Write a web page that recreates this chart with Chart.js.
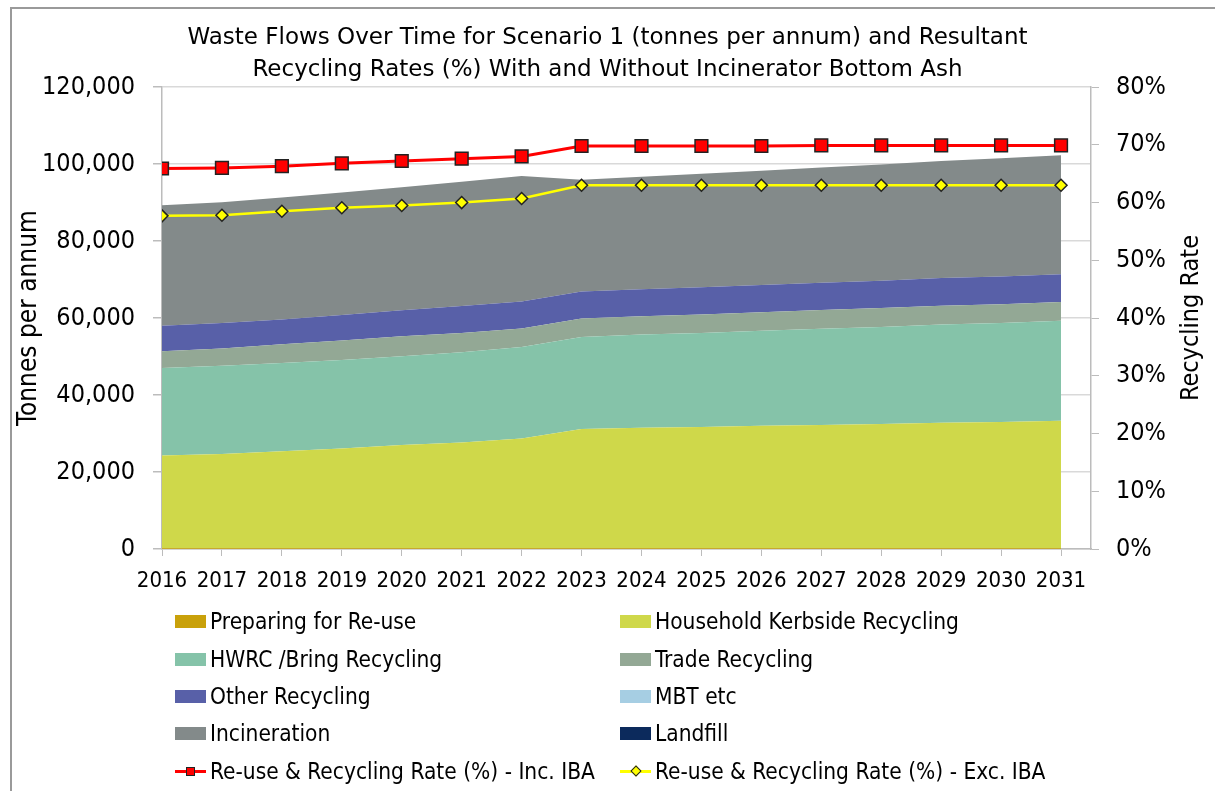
<!DOCTYPE html>
<html>
<head>
<meta charset="utf-8">
<script src="https://cdn.jsdelivr.net/npm/chart.js@4.4.0/dist/chart.umd.min.js"></script>
<style>
html, body { margin: 0; padding: 0; background: #fff; }
body { width: 1215px; height: 791px; position: relative; overflow: hidden;
       font-family: "DejaVu Sans Condensed", "DejaVu Sans", sans-serif; }
#frame { position: absolute; left: 10px; top: 7px; width: 1220px; height: 800px;
         border-left: 2px solid #9a9a9a; border-top: 2px solid #9a9a9a; }
#wrap { position: absolute; left: 0; top: 0; width: 1215px; height: 791px; }
#legend { position: absolute; left: 0; top: 0; width: 1215px; height: 791px; pointer-events: none; }
.item { position: absolute; display: flex; align-items: center; font-size: 22.5px; color: #000; white-space: nowrap; height: 26px; }
.sw { width: 31px; height: 13px; margin-right: 4px; }
.ln { width: 31px; height: 13px; margin-right: 4px; position: relative; }
.ln .bar { position: absolute; left: 0; right: 0; top: 5px; height: 3px; }
.ln .mk { position: absolute; left: 11px; top: 2px; width: 9px; height: 9px; border: 1px solid #222; box-sizing: border-box; }
.ln .mk.dia { width: 8px; height: 8px; left: 11.5px; top: 2.5px; transform: rotate(45deg); }
</style>
</head>
<body>
<div id="frame"></div>
<div id="wrap"><canvas id="chart" width="1215" height="791"></canvas></div>
<div id="legend"></div>
<script>
// Years on the x axis
const years = [2016, 2017, 2018, 2019, 2020, 2021, 2022, 2023, 2024, 2025, 2026, 2027, 2028, 2029, 2030, 2031];

// Waste flows (tonnes per annum)
const prepReuse   = [200, 200, 200, 200, 200, 200, 200, 200, 200, 200, 200, 200, 200, 200, 200, 200];
const kerbside    = [24100, 24500, 25200, 25900, 26800, 27500, 28500, 31000, 31300, 31500, 31800, 32000, 32300, 32600, 32800, 33100];
const hwrc        = [22700, 22900, 22900, 23000, 23100, 23400, 23800, 23900, 24200, 24400, 24700, 25000, 25200, 25500, 25700, 26000];
const trade       = [4400, 4500, 4900, 5100, 5200, 5000, 4800, 4800, 4800, 4800, 4800, 4900, 4900, 4900, 4900, 4900];
const otherRecyc  = [6600, 6600, 6400, 6600, 6700, 7000, 7000, 7000, 7000, 7100, 7100, 7100, 7100, 7200, 7200, 7200];
const mbt         = [0, 0, 0, 0, 0, 0, 0, 0, 0, 0, 0, 0, 0, 0, 0, 0];
const incineration = [31300, 31400, 31700, 31800, 32000, 32300, 32600, 29000, 29200, 29500, 29700, 29900, 30200, 30400, 30700, 30900];
const landfill    = [0, 0, 0, 0, 0, 0, 0, 0, 0, 0, 0, 0, 0, 0, 0, 0];

// Recycling rates (%)
const rateIncIBA = [65.9, 66.0, 66.3, 66.8, 67.2, 67.6, 68.0, 69.8, 69.8, 69.8, 69.8, 69.9, 69.9, 69.9, 69.9, 69.9];
const rateExcIBA = [57.7, 57.8, 58.5, 59.1, 59.5, 60.0, 60.7, 63.0, 63.0, 63.0, 63.0, 63.0, 63.0, 63.0, 63.0, 63.0];

const FONT = '"DejaVu Sans Condensed", "DejaVu Sans", sans-serif';
const TITLE_FONT = '"DejaVu Sans", sans-serif';
Chart.defaults.font.family = FONT;
Chart.defaults.color = '#000';

function pts(arr) {
    return years.map((y, i) => ({ x: y, y: arr[i] }));
}

// Stacked areas (bottom to top)
const areas = [
    { label: 'Preparing for Re-use', data: prepReuse, color: '#c9a10a' },
    { label: 'Household Kerbside Recycling', data: kerbside, color: '#cfd84a' },
    { label: 'HWRC /Bring Recycling', data: hwrc, color: '#85c3a9' },
    { label: 'Trade Recycling', data: trade, color: '#93a895' },
    { label: 'Other Recycling', data: otherRecyc, color: '#5860a8' },
    { label: 'MBT etc', data: mbt, color: '#a6cee3' },
    { label: 'Incineration', data: incineration, color: '#838a8a' },
    { label: 'Landfill', data: landfill, color: '#0c2a5c' }
];

const datasets = areas.map((a, i) => ({
    type: 'line',
    label: a.label,
    data: pts(a.data),
    yAxisID: 'y',
    backgroundColor: a.color,
    borderColor: a.color,
    borderWidth: 0,
    pointRadius: 0,
    tension: 0,
    fill: i === 0 ? 'origin' : '-1',
    order: 1
}));

datasets.push({
    type: 'line',
    label: 'Re-use & Recycling Rate (%) - Inc. IBA',
    data: pts(rateIncIBA),
    yAxisID: 'y2',
    borderColor: '#ff0000',
    borderWidth: 3,
    backgroundColor: '#ff0000',
    pointStyle: 'rect',
    pointRadius: 9,
    pointBorderColor: '#222',
    pointBorderWidth: 1.5,
    fill: false,
    tension: 0,
    order: 0
});
datasets.push({
    type: 'line',
    label: 'Re-use & Recycling Rate (%) - Exc. IBA',
    data: pts(rateExcIBA),
    yAxisID: 'y2',
    borderColor: '#ffff00',
    borderWidth: 2.5,
    backgroundColor: '#ffff00',
    pointStyle: 'rectRot',
    pointRadius: 6,
    pointBorderColor: '#222',
    pointBorderWidth: 1.5,
    fill: false,
    tension: 0,
    order: 0
});

const axisGrey = '#bcbcbc';

// Right axis title reads bottom-to-top like the left one
const rightTitle = {
    id: 'rightTitle',
    afterDraw(chart) {
        const ctx = chart.ctx;
        const area = chart.chartArea;
        ctx.save();
        ctx.translate(1191, (area.top + area.bottom) / 2);
        ctx.rotate(-Math.PI / 2);
        ctx.font = '25px ' + FONT;
        ctx.fillStyle = '#000';
        ctx.textAlign = 'center';
        ctx.textBaseline = 'middle';
        ctx.fillText('Recycling Rate', 0, 0);
        ctx.restore();
    }
};

new Chart(document.getElementById('chart').getContext('2d'), {
    type: 'line',
    data: { datasets: datasets },
    plugins: [rightTitle],
    options: {
        responsive: false,
        animation: false,
        layout: { padding: 0 },
        scales: {
            x: {
                type: 'linear',
                min: 2016,
                max: 2031.5,
                afterBuildTicks: (s) => { s.ticks = years.map(v => ({ value: v })); },
                afterFit: (s) => { s.height = 242; },
                ticks: {
                    callback: (v) => String(v),
                    font: { size: 22 },
                    padding: 12,
                    maxRotation: 0,
                    autoSkip: false
                },
                grid: { drawOnChartArea: false, drawTicks: true, tickLength: 7, tickColor: axisGrey },
                border: { color: axisGrey, width: 1.5 }
            },
            y: {
                position: 'left',
                stacked: true,
                min: 0,
                max: 120000,
                afterFit: (s) => { s.width = 162; },
                ticks: {
                    stepSize: 20000,
                    callback: (v) => v.toLocaleString('en-US'),
                    font: { size: 25 },
                    padding: 18
                },
                grid: { color: '#d9d9d9', lineWidth: 1.5, tickLength: 9, tickColor: axisGrey },
                border: { color: axisGrey, width: 1.5 },
                title: { display: true, text: 'Tonnes per annum', font: { size: 26 }, padding: { top: 14 } }
            },
            y2: {
                position: 'right',
                stacked: false,
                min: 0,
                max: 80,
                afterFit: (s) => { s.width = 124; },
                ticks: {
                    stepSize: 10,
                    callback: (v) => v + '%',
                    font: { size: 25 },
                    padding: 17
                },
                grid: { drawOnChartArea: false, tickLength: 8, tickColor: axisGrey },
                border: { color: axisGrey, width: 1.5 }
            }
        },
        plugins: {
            legend: { display: false },
            tooltip: { enabled: false },
            title: {
                display: true,
                text: ['Waste Flows Over Time for Scenario 1 (tonnes per annum) and Resultant',
                       'Recycling Rates (%) With and Without Incinerator Bottom Ash'],
                font: { family: TITLE_FONT, size: 23, weight: 'normal', lineHeight: 1.35 },
                color: '#000',
                padding: { top: 23, bottom: 2 }
            }
        }
    }
});

// HTML legend in two columns below the chart
const legendEl = document.getElementById('legend');
const rowY = [621, 659, 696, 733, 771];
const colX = [175, 620];

function addItem(label, idx, markerHtml) {
    const d = document.createElement('div');
    d.className = 'item';
    d.style.left = colX[idx % 2] + 'px';
    d.style.top = (rowY[Math.floor(idx / 2)] - 13) + 'px';
    d.innerHTML = markerHtml + '<span>' + label + '</span>';
    legendEl.appendChild(d);
}

areas.forEach((a, i) => {
    addItem(a.label, i, '<div class="sw" style="background:' + a.color + '"></div>');
});
addItem('Re-use &amp; Recycling Rate (%) - Inc. IBA', 8,
    '<div class="ln"><div class="bar" style="background:#ff0000"></div><div class="mk" style="background:#ff0000"></div></div>');
addItem('Re-use &amp; Recycling Rate (%) - Exc. IBA', 9,
    '<div class="ln"><div class="bar" style="background:#ffff00"></div><div class="mk dia" style="background:#ffff00"></div></div>');
</script>
</body>
</html>
